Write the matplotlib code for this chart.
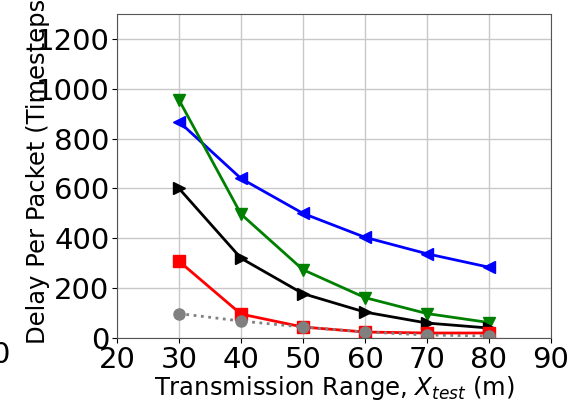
import matplotlib
matplotlib.use("Agg")
import matplotlib.pyplot as plt

x = [30, 40, 50, 60, 70, 80]
blue = [868, 640, 500, 404, 338, 284]
green = [955, 497, 274, 162, 98, 62]
black = [600, 320, 178, 104, 60, 40]
red = [308, 96, 44, 24, 20, 20]
gray = [98, 68, 44, 24, 12, 8]

fig = plt.figure(figsize=(5.78, 4.05), dpi=100)
ax = fig.add_axes([117/578, 1-338/405, (551-117)/578, (338-14)/405])

ax.plot(x, blue, color='blue', marker='<', markersize=8, linewidth=2)
ax.plot(x, green, color='green', marker='v', markersize=8, linewidth=2)
ax.plot(x, black, color='black', marker='>', markersize=8, linewidth=2)
ax.plot(x, red, color='red', marker='s', markersize=8, linewidth=2)
ax.plot(x, gray, color='gray', marker='o', markersize=8, linewidth=2, linestyle=':')

ax.set_xlim(20, 90)
ax.set_ylim(0, 1300)
ax.set_xticks([20, 30, 40, 50, 60, 70, 80, 90])
ax.set_yticks([0, 200, 400, 600, 800, 1000, 1200])
ax.tick_params(labelsize=21, pad=2)
ax.grid(True, color='#c8c8c8', linewidth=1)
for s in ax.spines.values():
    s.set_color('#555555')

ax.set_xlabel('Transmission Range, $X_{test}$ (m)', fontsize=17.5, labelpad=0)
ax.set_ylabel('Delay Per Packet (Timesteps)', fontsize=17.5)
ax.yaxis.set_label_coords(-0.155, 0.53)

# cut-off tick label from neighbouring panel
fig.text(-0.016, 1-355/405, '0', fontsize=21, va='center', ha='left')

fig.savefig('out.png', dpi=100)
